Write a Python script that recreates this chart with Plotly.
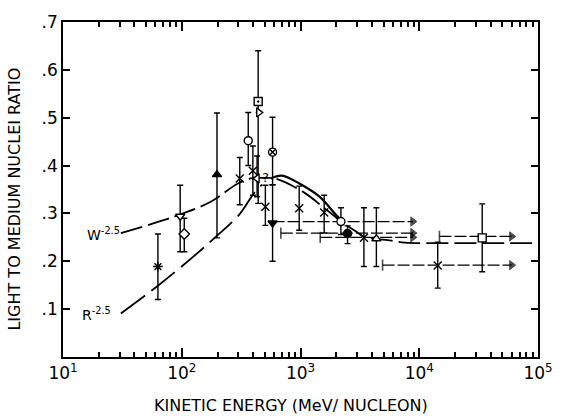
import plotly.graph_objects as go

# ---------------- data ----------------
# individual measurements
pt_E   = [63, 97, 105, 198, 308, 363, 397, 440, 445, 431, 582, 506, 582, 975, 1582, 2190, 2490, 3420, 4355, 14300, 33900]
pt_y   = [.189, .294, .257, .381, .373, .452, .389, .534, .511, .373, .428, .314, .280, .311, .302, .283, .258, .249, .247, .191, .249]
pt_hi  = [.257, .359, .290, .510, .417, .511, .441, .640, .511, .420, .501, .359, .360, .357, .338, .312, .274, .312, .312, .240, .320]
pt_lo  = [.120, .220, .220, .249, .318, .400, .338, .321, .511, .335, .360, .275, .200, .265, .259, .256, .237, .189, .189, .144, .178]
pt_sym = ["asterisk", "triangle-down", "diamond", "triangle-up", "x-thin", "circle", "x-thin",
          "square-dot", "triangle-right", "triangle-left", "circle-x", "x-thin", "triangle-down",
          "x-thin", "x-thin", "circle", "circle", "x-thin", "triangle-up", "x-thin", "square"]
pt_fill = ["black", "white", "white", "black", "black", "white", "black",
           "white", "white", "white", "white", "black", "black",
           "black", "black", "white", "black", "black", "white", "black", "white"]

# energy-bin lower limits (horizontal arrows)
arr_E0  = [582, 683, 1466, 4910, 14800]
arr_E1  = [8830, 8830, 8830, 60000, 60000]
arr_y   = [.283, .259, .250, .192, .252]
arr_cap = [False, True, True, True, True]

# odd "?" glyph near the peak
q_E = [506]
q_y = [.373]

# model curves
W_E = [30.7, 88, 177, 294, 380, 500, 610, 1052, 1592, 2259, 2917, 3315, 4350, 5880, 7590, 12000, 30000, 100000]
W_y = [.259, .294, .325, .362, .373, .374, .373, .345, .311, .281, .263, .253, .247, .243, .239, .238, .238, .238]
R_low_E = [30.7, 63.8, 137, 189, 304, 405, 474]
R_low_y = [.091, .150, .218, .249, .297, .342, .360]
R_pk_E = [560, 695, 986, 1445, 1987, 2260]
R_pk_y = [.373, .379, .362, .335, .297, .282]

x_ticks = [10, 100, 1000, 10000, 100000]
x_ticktext = ["10<sup>1</sup>", "10<sup>2</sup>", "10<sup>3</sup>", "10<sup>4</sup>", "10<sup>5</sup>"]
y_ticks = [.1, .2, .3, .4, .5, .6, .7]
y_ticktext = [".1", ".2", ".3", ".4", ".5", ".6", ".7"]

# ---------------- figure ----------------
FONT = "DejaVu Sans"
fig = go.Figure()

fig.add_trace(go.Scatter(x=W_E, y=W_y, mode="lines", line=dict(color="black", width=1.8, dash="22px,6px", shape="spline"),
                         hoverinfo="skip"))
fig.add_trace(go.Scatter(x=R_low_E, y=R_low_y, mode="lines", line=dict(color="black", width=1.8, dash="30px,8px", shape="spline"),
                         hoverinfo="skip"))
fig.add_trace(go.Scatter(x=R_pk_E, y=R_pk_y, mode="lines", line=dict(color="black", width=2.2, shape="spline"),
                         hoverinfo="skip"))

# horizontal arrows: shafts with left caps
ax_x, ax_y, ax_size = [], [], []
for e0, e1, yy, cap in zip(arr_E0, arr_E1, arr_y, arr_cap):
    ax_x += [e0, e1, None]
    ax_y += [yy, yy, None]
    ax_size += [8 if cap else 0, 0, 0]
fig.add_trace(go.Scatter(x=ax_x, y=ax_y, mode="lines+markers",
                         line=dict(color="black", width=1.3, dash="12px,3px"),
                         marker=dict(symbol="line-ns", size=ax_size, color="black",
                                     line=dict(color="black", width=1.6)),
                         hoverinfo="skip", connectgaps=False))
# arrow heads
fig.add_trace(go.Scatter(x=arr_E1, y=arr_y, mode="markers",
                         marker=dict(symbol="triangle-right", size=[8] * len(arr_E1), color="black",
                                     line=dict(color="black", width=1)),
                         hoverinfo="skip"))

# data points with vertical error bars
fig.add_trace(go.Scatter(
    x=pt_E, y=pt_y, mode="markers",
    marker=dict(symbol=pt_sym, size=8, color=pt_fill, line=dict(color="black", width=1.4)),
    error_y=dict(type="data", symmetric=False,
                 array=[h - v for h, v in zip(pt_hi, pt_y)],
                 arrayminus=[v - l for v, l in zip(pt_y, pt_lo)],
                 color="black", thickness=1.4, width=3),
    hoverinfo="skip"))

fig.add_trace(go.Scatter(x=q_E, y=q_y, mode="text", text=["?"],
                         textfont=dict(family=FONT, size=13, color="black"), hoverinfo="skip"))

axis_common = dict(showline=True, linecolor="black", linewidth=1.5, mirror="ticks",
                   ticks="inside", tickcolor="black", tickwidth=1.5, showgrid=False, zeroline=False)

minor_vals = [m * 10 ** d for d in range(1, 5) for m in range(2, 10)]
fig.update_xaxes(type="log", range=[1, 5], tickvals=x_ticks, ticktext=x_ticktext, ticklen=9,
                 tickfont=dict(family=FONT, size=17, color="black"),
                 minor=dict(tickvals=minor_vals, ticks="inside", ticklen=5, tickwidth=1.5,
                            tickcolor="black", showgrid=False),
                 **axis_common)
fig.update_yaxes(range=[0, 0.7], tickvals=y_ticks, ticktext=y_ticktext, ticklen=7,
                 tickfont=dict(family=FONT, size=17, color="black"), **axis_common)

fig.add_annotation(text="KINETIC ENERGY (MeV/ NUCLEON)", xref="paper", yref="paper", x=0.48, y=0,
                   yshift=-48, showarrow=False, font=dict(family=FONT, size=16, color="black"),
                   xanchor="center", yanchor="middle")
fig.add_annotation(text="LIGHT TO MEDIUM NUCLEI RATIO", xref="paper", yref="paper", x=0, y=0.47,
                   xshift=-48, textangle=-90, showarrow=False, font=dict(family=FONT, size=16, color="black"),
                   xanchor="center", yanchor="middle")
fig.add_annotation(text="W<sup>-2.5</sup>", x=1.183, y=0.257, xanchor="left", yanchor="middle",
                   showarrow=False, font=dict(family=FONT, size=14, color="black"))
fig.add_annotation(text="R<sup>-2.5</sup>", x=1.141, y=0.090, xanchor="left", yanchor="middle",
                   showarrow=False, font=dict(family=FONT, size=14, color="black"))

fig.update_layout(width=565, height=419, margin=dict(l=63, r=20, t=16, b=62),
                  paper_bgcolor="white", plot_bgcolor="white", showlegend=False)

fig.write_html("out.html")
